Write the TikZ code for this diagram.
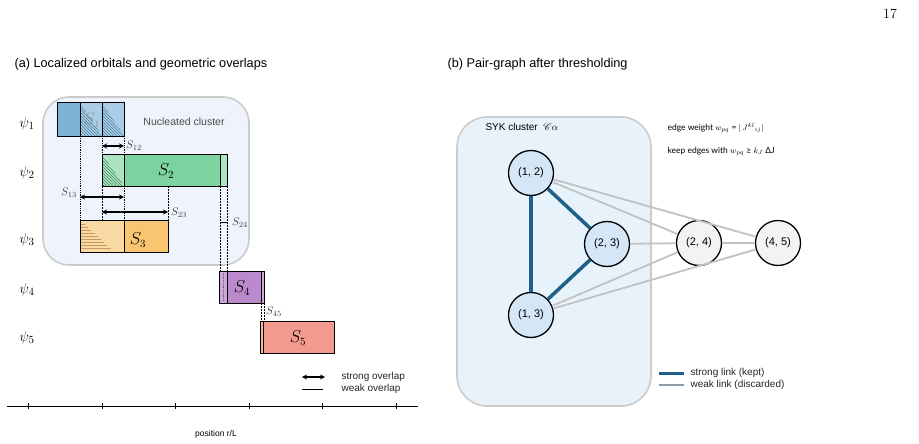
\documentclass[tikz,border=0pt]{standalone}
\usepackage{fontspec}
\usepackage{amsmath,amssymb}
\usepackage{mathrsfs}
\usepackage{tikz}
\usetikzlibrary{arrows.meta}
\newfontfamily\arial{Liberation Sans}
\newfontfamily\lato{Lato}
\definecolor{clfill}{HTML}{EFF4FC}
\definecolor{clgray}{HTML}{CBCBCB}
\definecolor{bfill}{HTML}{E7F2FA}
\definecolor{sadark}{HTML}{7FB2D5}
\definecolor{salight}{HTML}{A9CDE6}
\definecolor{sahatch}{HTML}{4F7FA3}
\definecolor{sbmain}{HTML}{7DD3A0}
\definecolor{sblight}{HTML}{AEE2C4}
\definecolor{sbhatch}{HTML}{3F8F60}
\definecolor{scmain}{HTML}{F8C572}
\definecolor{sclight}{HTML}{F9DAA4}
\definecolor{scstripe}{HTML}{C8995A}
\definecolor{sdmain}{HTML}{BB8ACC}
\definecolor{sdlight}{HTML}{CDA7DA}
\definecolor{semain}{HTML}{F19A8D}
\definecolor{selight}{HTML}{F4B3A9}
\definecolor{nodein}{HTML}{D5E7F6}
\definecolor{nodeout}{HTML}{F2F3F4}
\definecolor{strongblue}{HTML}{1F5F8C}
\definecolor{weakgray}{HTML}{C2C2C2}
\definecolor{legweak}{HTML}{8E9BA4}
\newcommand{\tsz}{\fontsize{12.7}{15}\selectfont}

\begin{document}
\begin{tikzpicture}[x=1pt,y=-1pt,
  title/.style={font=\arial\tsz,anchor=west},
  obox/.style={draw=black,line width=1pt},
  ovl/.style={{Stealth[length=5pt,width=5pt]}-{Stealth[length=5pt,width=5pt]},line width=1.4pt},
  guide/.style={line width=0.8pt,dash pattern=on 2pt off 1pt},
  dotline/.style={line width=0.8pt,dash pattern=on 0.8pt off 1pt},
  psilab/.style={font=\fontsize{15}{17}\selectfont},
  slab/.style={font=\fontsize{16}{18}\selectfont},
  sublab/.style={font=\fontsize{11}{12}\selectfont,anchor=west,text=black!75,inner sep=1pt},
  legtext/.style={font=\arial\fontsize{10}{12}\selectfont,anchor=west,text=black!85},
  pairnode/.style={circle,draw=black,line width=1.3pt,minimum size=45pt,inner sep=0pt,font=\arial\fontsize{11}{13}\selectfont},
  strong/.style={draw=strongblue,line width=3.5pt},
  weak/.style={draw=weakgray,line width=1.8pt}]
\useasboundingbox (0,0) rectangle (919,444);
\node[font=\fontsize{14}{16}\selectfont] (pg) at (890,14) {17};

% (a) orbitals
\node[title] (ta) at (11,64) {(a) Localized orbitals and geometric overlaps};
\draw[draw=clgray,line width=1.6pt,fill=clfill,rounded corners=26pt] (43,97) rectangle (249,265);
\node[font=\arial\fontsize{10.5}{12}\selectfont,text=black!70] (nuc) at (184,122) {Nucleated cluster};
\foreach \y/\i in {124/1,173/2,240/3,290/4,338/5} {\node[psilab] (psi\i) at (27,\y) {$\psi_{\i}$};}

% S1
\fill[sadark] (57,103) rectangle (80,136);
\fill[salight] (80,103) rectangle (124,136);
\node[slab,text=black!40] (s1) at (92,120) {$S_1$};
\foreach \a in {80,102} {
  \begin{scope}
  \clip (\a,103) -- (\a,136) -- (\a+22,136) -- cycle;
  \foreach \t in {-36,-33,...,24} {\draw[sahatch,line width=0.4pt] (\a+\t,103) -- (\a+\t+33,136);}
  \end{scope}
}
\draw[obox] (57,103) rectangle (124,136);
\draw[obox] (80,103) -- (80,136) (102,103) -- (102,136);

% S2
\fill[sbmain] (102,154) rectangle (227,186);
\fill[sblight] (102,154) rectangle (124,186);
\fill[sblight] (220,154) rectangle (227,186);
\begin{scope}
\clip (102,154) -- (102,186) -- (124,186) -- cycle;
\foreach \t in {-36,-33,...,24} {\draw[sbhatch,line width=0.4pt] (102+\t,154) -- (134+\t,186);}
\end{scope}
\draw[obox] (102,154) rectangle (227,186);
\draw[obox] (124,154) -- (124,186) (220,154) -- (220,186);
\node[slab] (s2) at (166,171) {$S_2$};

% S3
\fill[scmain] (80,220) rectangle (168,252);
\fill[sclight] (80,220) rectangle (124,252);
\foreach \k in {0,...,8} {\draw[scstripe,line width=0.6pt] (81,224+3*\k) -- ++(4+3.2*\k,0);}
\draw[obox] (80,220) rectangle (168,252);
\draw[obox] (124,220) -- (124,252);
\node[slab] (s3) at (138,240) {$S_3$};

% S4
\fill[sdmain] (219,271) rectangle (264,303);
\fill[sdlight] (219,271) rectangle (227,303);
\fill[sdlight] (261,271) rectangle (264,303);
\draw[sdmain!60!black,dotline,line width=0.5pt] (223,273) -- (223,301);
\draw[obox] (219,271) rectangle (264,303);
\draw[obox] (227,271) -- (227,303) (261,271) -- (261,303);
\node[slab] (s4) at (242,288) {$S_4$};

% S5
\fill[semain] (260,321) rectangle (334,353);
\fill[selight] (260,321) rectangle (263,353);
\draw[obox] (260,321) rectangle (334,353);
\draw[obox] (263,321) -- (263,353);
\node[slab] (s5) at (298,338) {$S_5$};

% overlap guides
\draw[dotline] (80,136) -- (80,220);
\draw[dotline] (102,136) -- (102,154) (124,136) -- (124,154);
\draw[guide] (102,186) -- (102,220) (168,186) -- (168,220);
\draw[dotline] (124,186) -- (124,220);
\draw[guide] (220,186) -- (220,271) (227,186) -- (227,271);
\draw[guide] (261,303) -- (261,321) (264,303) -- (264,321);
\draw[ovl] (102,146) -- (124,146);
\draw[ovl] (80,197) -- (124,197);
\draw[ovl] (102,212) -- (168,212);
\draw[line width=0.8pt] (220,222) -- (227,222);
\node[sublab] (o12) at (125,146) {$S_{12}$};
\node[sublab,anchor=east] (o13) at (78,193) {$S_{13}$};
\node[sublab] (o23) at (170,213) {$S_{23}$};
\node[sublab] (o24) at (231,223) {$S_{24}$};
\node[sublab] (o45) at (265,312) {$S_{45}$};

% legend (a)
\draw[ovl] (302,377) -- (325,377);
\node[legtext] (lso) at (338,377) {strong overlap};
\draw[line width=0.8pt] (302,389) -- (323,389);
\node[legtext] (lwo) at (338,389) {weak overlap};

% axis
\draw[line width=1pt] (7,406) -- (418,406);
\foreach \x in {28,102,175,249,322,396} {\draw[line width=1pt] (\x,403) -- (\x,409);}
\node[font=\arial\fontsize{8.5}{10}\selectfont] (xl) at (216,434) {position r/L};

% (b) pair graph
\node[title] (tb) at (444,64) {(b) Pair-graph after thresholding};
\draw[draw=clgray,line width=1.6pt,fill=bfill,rounded corners=30pt] (457,117) rectangle (651,406);
\node[font=\arial\fontsize{10}{12}\selectfont,anchor=west] (syk) at (482,127) {SYK cluster\ \ $\mathscr{C}\alpha$};
\node[font=\lato\fontsize{8.5}{10}\selectfont,anchor=west] (ew) at (664,128) {edge weight $w_{pq}$ = $|\,J^{kl}{}_{ij}|$};
\node[font=\lato\fontsize{8.5}{10}\selectfont,anchor=west] (ke) at (664,151) {keep edges with $w_{pq}$ ≥ $k_J$ ΔJ};

\node[pairnode,fill=nodein] (p12) at (531,173) {(1, 2)};
\node[pairnode,fill=nodein] (p23) at (607,244) {(2, 3)};
\node[pairnode,fill=nodein] (p13) at (531,315) {(1, 3)};
\node[pairnode,fill=nodeout] (p24) at (699,243) {(2, 4)};
\node[pairnode,fill=nodeout] (p45) at (778,243) {(4, 5)};

\draw[weak] (p12) -- (p24);
\draw[weak] (p12) -- (p45);
\draw[weak] (p23) -- (p24);
\draw[weak] (p13) -- (p24);
\draw[weak] (p13) -- (p45);
\draw[weak] (p24) -- (p45);
\draw[strong] (p12) -- (p23);
\draw[strong] (p12) -- (p13);
\draw[strong] (p23) -- (p13);

% legend (b)
\draw[strongblue,line width=3pt] (659,373) -- (684,373);
\node[legtext] (lsl) at (687,373) {strong link (kept)};
\draw[legweak,line width=1.6pt] (659,385) -- (684,385);
\node[legtext] (lwl) at (687,385) {weak link (discarded)};
\end{tikzpicture}
\end{document}
